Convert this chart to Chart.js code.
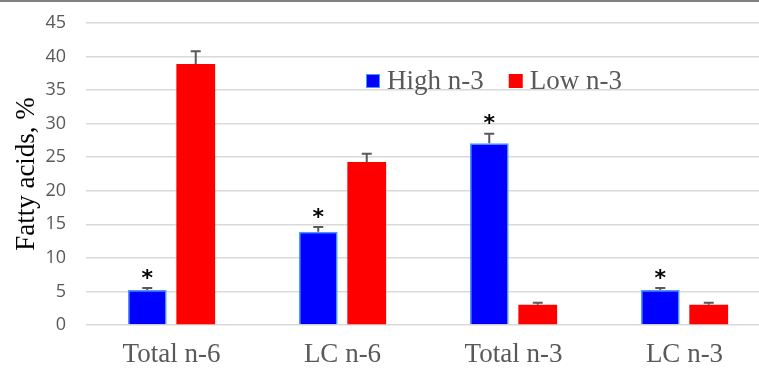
<!DOCTYPE html>
<html>
<head>
<meta charset="utf-8">
<script src="https://cdn.jsdelivr.net/npm/chart.js@4.4.1/dist/chart.umd.min.js"></script>
<style>
  html, body { margin: 0; padding: 0; background: #fff; overflow: hidden; }
  #wrap { width: 770px; height: 369px; position: relative; }
</style>
</head>
<body>
<div id="wrap"><canvas id="fattyChart"></canvas></div>
<script>
// данные с рисунка
const categories = ['Total n-6', 'LC n-6', 'Total n-3', 'LC n-3'];
const highN3 = [5.2, 13.9, 27.1, 5.2];
const lowN3 = [38.9, 24.3, 3.0, 3.0];
const highN3Err = [0.3, 0.7, 1.4, 0.3];
const lowN3Err = [1.9, 1.2, 0.3, 0.3];
const highN3Star = [true, true, true, true];
const yTicks = [0, 5, 10, 15, 20, 25, 30, 35, 40, 45];

const grey = '#595959';

// усы ошибок, звёздочки, легенда и верхняя линия
const extras = {
    id: 'extras',
    afterDatasetsDraw(chart) {
        const ctx = chart.ctx;
        const y = chart.scales.y;
        const errs = [highN3Err, lowN3Err];
        ctx.save();
        ctx.strokeStyle = grey;
        ctx.lineWidth = 2;
        chart.data.datasets.forEach((ds, i) => {
            const meta = chart.getDatasetMeta(i);
            meta.data.forEach((bar, j) => {
                const top = y.getPixelForValue(ds.data[j] + errs[i][j]);
                const base = y.getPixelForValue(ds.data[j]);
                ctx.beginPath();
                ctx.moveTo(bar.x, base);
                ctx.lineTo(bar.x, top);
                ctx.moveTo(bar.x - 5, top);
                ctx.lineTo(bar.x + 5, top);
                ctx.stroke();
                if (i === 0 && highN3Star[j]) {
                    ctx.fillStyle = '#000';
                    ctx.font = 'bold 22px "DejaVu Sans"';
                    ctx.textAlign = 'center';
                    ctx.textBaseline = 'middle';
                    ctx.fillText('*', bar.x, top - 9);
                }
            });
        });

        // легенда внутри графика
        ctx.font = '27px "Liberation Serif"';
        ctx.textAlign = 'left';
        ctx.textBaseline = 'alphabetic';
        let lx = 366;
        const ly = 74;
        chart.data.datasets.forEach((ds) => {
            ctx.fillStyle = ds.backgroundColor;
            ctx.fillRect(lx, ly, 14, 14);
            if (ds.borderWidth) {
                ctx.strokeStyle = ds.borderColor;
                ctx.lineWidth = 1;
                ctx.strokeRect(lx + 0.5, ly + 0.5, 13, 13);
            }
            ctx.fillStyle = grey;
            ctx.fillText(ds.label, lx + 21, ly + 15);
            lx += 21 + ctx.measureText(ds.label).width + 25;
        });

        ctx.fillStyle = '#808080';
        ctx.fillRect(0, 0, chart.width, 2);
        ctx.restore();
    }
};

new Chart(document.getElementById('fattyChart'), {
    type: 'bar',
    data: {
        labels: categories,
        datasets: [
            {
                label: 'High n-3',
                data: highN3,
                backgroundColor: '#0000ff',
                borderColor: '#3f9bff',
                borderWidth: 1.5,
                categoryPercentage: 0.567,
                barPercentage: 0.8
            },
            {
                label: 'Low n-3',
                data: lowN3,
                backgroundColor: '#ff0000',
                borderWidth: 0,
                categoryPercentage: 0.567,
                barPercentage: 0.8
            }
        ]
    },
    options: {
        responsive: true,
        maintainAspectRatio: false,
        animation: false,
        layout: { padding: { top: 0, right: 0, left: 0, bottom: 0 } },
        plugins: {
            legend: { display: false },
            tooltip: { enabled: false }
        },
        scales: {
            y: {
                min: 0,
                max: 45,
                afterBuildTicks: (scale) => { scale.ticks = yTicks.map(v => ({ value: v })); },
                afterFit: (scale) => { scale.width = 86; scale.paddingTop = 23; },
                border: { display: false },
                grid: { color: '#d9d9d9', lineWidth: 1.5, drawTicks: false },
                ticks: {
                    color: grey,
                    padding: 20,
                    font: { family: 'Open Sans', size: 18 }
                },
                title: {
                    display: true,
                    text: 'Fatty acids, %',
                    color: '#000',
                    padding: { top: 11, bottom: 0 },
                    font: { family: 'Liberation Serif', size: 27 }
                }
            },
            x: {
                afterFit: (scale) => { scale.height = 44; },
                border: { display: false },
                grid: { display: false },
                ticks: {
                    color: grey,
                    padding: 6,
                    font: { family: 'Liberation Serif', size: 27 }
                }
            }
        }
    },
    plugins: [extras]
});
</script>
</body>
</html>
